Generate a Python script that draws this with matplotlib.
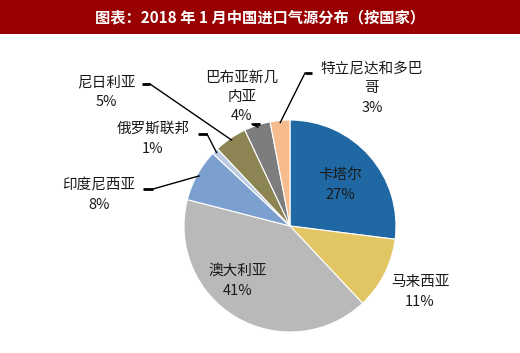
import numpy as np
import matplotlib
matplotlib.use("Agg")
import matplotlib.pyplot as plt
from matplotlib.patches import Rectangle

plt.rcParams['font.family'] = ['Noto Sans CJK SC', 'DejaVu Sans']

# data (share of imported gas, Jan 2018)
countries = ["卡塔尔", "马来西亚", "澳大利亚", "印度尼西亚", "俄罗斯联邦",
             "尼日利亚", "巴布亚新几\n内亚", "特立尼达和多巴\n哥"]
shares = [27, 11, 41, 8, 1, 5, 4, 3]
colors = ["#1F68A3", "#E3C664", "#B9B9B9", "#7B9FCF", "#BACBE2",
          "#8C8453", "#7D7D7D", "#F6BC8D"]

W, H = 520, 353
fig = plt.figure(figsize=(W / 100, H / 100), dpi=100)
ax = fig.add_axes([0, 0, 1, 1])

# title bar
fig.patches.append(Rectangle((0, 1 - 34 / H), 1, 34 / H, transform=fig.transFigure,
                             facecolor="#990000", edgecolor="none"))
fig.text(0.5, 1 - 17 / H, "图表：2018 年 1 月中国进口气源分布（按国家）",
         color="white", fontsize=11, fontweight="bold", ha="center", va="center")

cx, cy, r = 290, H - 226, 106
wedges, _ = ax.pie(shares, colors=colors, startangle=90, counterclock=False,
                   center=(cx, cy), radius=r, frame=True,
                   wedgeprops=dict(edgecolor="white", linewidth=0.8))
ax.set_xlim(0, W)
ax.set_ylim(0, H)
ax.set_aspect("equal")
ax.axis("off")

# label layout: (x, y) in pixels from top-left, leader stub (x0, x1, y) or None
inside = {0: (340, 185), 2: (238, 281)}
outside = {
    1: ((420, 292), None),
    3: ((99, 195), (143, 153, 189)),
    4: ((153, 139), (198, 207, 134)),
    5: ((106, 92), (142, 150, 84)),
    6: ((242, 97), (252, 260, 124)),
    7: ((372, 88), (305, 312, 73)),
}
fs = 10.5

for i, w in enumerate(wedges):
    lab = f"{countries[i]}\n{shares[i]}%"
    if i in inside:
        x, y = inside[i]
        ax.text(x, H - y, lab, ha="center", va="center", fontsize=fs,
                color="#1a1a1a", linespacing=1.5)
        continue
    (x, y), stub = outside[i]
    ax.text(x, H - y, lab, ha="center", va="center", fontsize=fs,
            color="#1a1a1a", linespacing=1.5)
    if stub is not None:
        ang = np.deg2rad((w.theta1 + w.theta2) / 2)
        px, py = cx + r * 0.98 * np.cos(ang), cy + r * 0.98 * np.sin(ang)
        x0, x1, sy = stub
        near = x1 if px > x1 else x0
        ax.plot([x0, x1], [H - sy, H - sy], color="black", lw=2, solid_capstyle="butt")
        ax.plot([near, px], [H - sy, py], color="black", lw=1)

fig.savefig("out.png", dpi=100)
